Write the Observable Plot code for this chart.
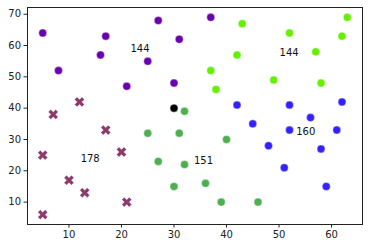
<!DOCTYPE html>
<html>
<head>
<meta charset="utf-8">
<script src="https://cdn.jsdelivr.net/npm/d3@7"></script>
<script src="https://cdn.jsdelivr.net/npm/@observablehq/plot@0.6"></script>
<style>
  html, body { margin: 0; padding: 0; background: #fff; }
  #chart svg { display: block; }
</style>
</head>
<body>
<div id="chart"></div>
<script>
// cluster definitions
const clusterNames = ["cluster 1", "cluster 2", "cluster 3", "cluster 4", "cluster 5"];
const clusterColors = ["#6a00b0", "#8e3a6c", "#4caf50", "#64f000", "#3322ff"];
const clusterSymbols = ["circle", "x", "circle", "circle", "circle"];
const clusterLabels = ["144", "178", "151", "144", "160"];

const purpleX = [5, 8, 17, 16, 21, 25, 27, 30, 31, 37];
const purpleY = [64, 52, 63, 57, 47, 55, 68, 48, 62, 69];
const maroonX = [7, 12, 17, 5, 20, 10, 13, 21, 5];
const maroonY = [38, 42, 33, 25, 26, 17, 13, 10, 6];
const greenX = [25, 31, 27, 32, 30, 32, 40, 36, 39, 46];
const greenY = [32, 32, 23, 22, 15, 39, 30, 16, 10, 10];
const limeX = [43, 52, 63, 62, 42, 57, 37, 49, 58, 38];
const limeY = [67, 64, 69, 63, 57, 58, 52, 49, 48, 46];
const blueX = [42, 52, 62, 56, 45, 52, 61, 48, 58, 51, 59];
const blueY = [41, 41, 42, 37, 35, 33, 33, 28, 27, 21, 15];
const specialX = [30];
const specialY = [40];

const xTicks = [10, 20, 30, 40, 50, 60];
const yTicks = [10, 20, 30, 40, 50, 60, 70];

const xsAll = [purpleX, maroonX, greenX, limeX, blueX];
const ysAll = [purpleY, maroonY, greenY, limeY, blueY];

const points = [];
const centroids = [];
xsAll.forEach((xs, i) => {
  xs.forEach((x, j) => points.push({x, y: ysAll[i][j], c: clusterNames[i], s: clusterSymbols[i]}));
  centroids.push({x: d3.mean(xs), y: d3.mean(ysAll[i]), label: clusterLabels[i]});
});
const circles = points.filter(d => d.s === "circle");
const crosses = points.filter(d => d.s === "x");
const special = specialX.map((x, i) => ({x, y: specialY[i]}));

const chart = Plot.plot({
  width: 368,
  height: 248,
  marginLeft: 27,
  marginRight: 6,
  marginTop: 7,
  marginBottom: 24,
  style: {fontFamily: "DejaVu Sans", fontSize: "10px", color: "#222", background: "#fff"},
  x: {domain: [2.1, 65.9], ticks: xTicks, tickSize: 3.5, tickPadding: 3, label: null},
  y: {domain: [2.85, 72.15], ticks: yTicks, tickSize: 3.5, tickPadding: 3, label: null},
  color: {type: "ordinal", domain: clusterNames, range: clusterColors},
  marks: [
    Plot.frame({stroke: "#222", strokeWidth: 1}),
    Plot.dot(circles, {x: "x", y: "y", fill: "c", r: 4, stroke: "white", strokeWidth: 0.4}),
    Plot.dot(crosses, {x: "x", y: "y", fill: "c", symbol: "cross", rotate: 45, r: 4.4, stroke: "white", strokeWidth: 0.3}),
    Plot.dot(special, {x: "x", y: "y", fill: "black", r: 4, stroke: "white", strokeWidth: 0.4}),
    Plot.text(centroids, {x: "x", y: "y", text: "label", textAnchor: "start", lineAnchor: "bottom", dy: 2, fill: "#111", fontSize: 10})
  ]
});
document.getElementById("chart").appendChild(chart);
</script>
</body>
</html>
